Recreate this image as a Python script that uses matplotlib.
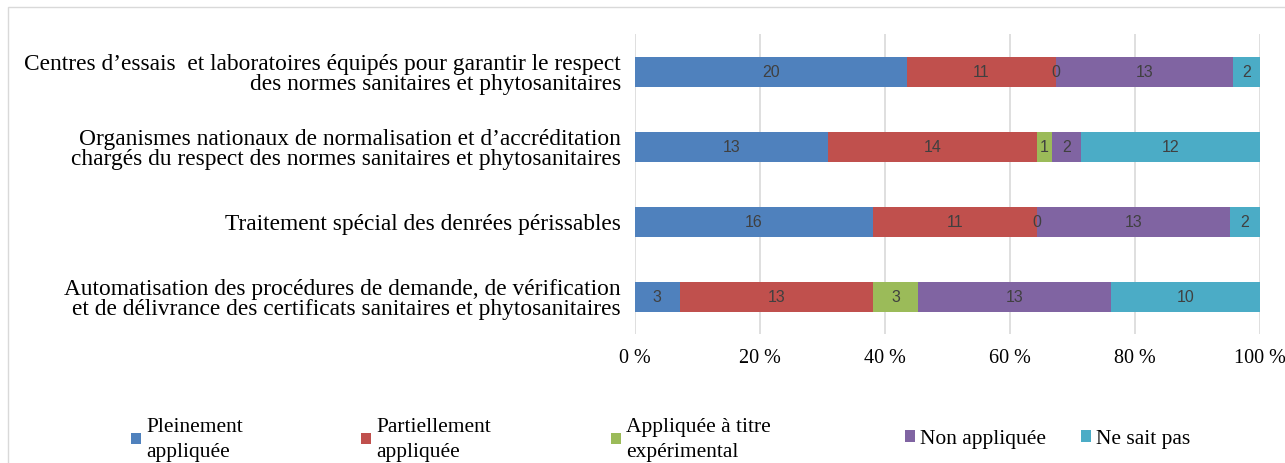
import matplotlib
matplotlib.use('Agg')

import numpy as np
import matplotlib.pyplot as plt
from matplotlib.patches import Rectangle

categories = [
    "Centres d\u2019essais  et laboratoires équipés pour garantir le respect\ndes normes sanitaires et phytosanitaires",
    "Organismes nationaux de normalisation et d\u2019accréditation\nchargés du respect des normes sanitaires et phytosanitaires",
    "Traitement spécial des denrées périssables",
    "Automatisation des procédures de demande, de vérification\net de délivrance des certificats sanitaires et phytosanitaires",
]
series_names = ["Pleinement\nappliquée", "Partiellement\nappliquée", "Appliquée à titre\nexpérimental",
                "Non appliquée", "Ne sait pas"]
pleinement = [20, 13, 16, 3]
partiellement = [11, 14, 11, 13]
experimental = [0, 1, 0, 3]
non_appliquee = [13, 2, 13, 13]
ne_sait_pas = [2, 12, 2, 10]
colors = ['#4F81BD', '#C0504D', '#9BBB59', '#8064A2', '#4BACC6']

serif = 'Liberation Serif'

values = np.array([pleinement, partiellement, experimental, non_appliquee, ne_sait_pas], dtype=float)
totals = values.sum(axis=0)
shares = values / totals * 100

fig = plt.figure(figsize=(12.85, 4.64), dpi=100)
ax = fig.add_axes([635 / 1285, 1 - 335 / 464, 625 / 1285, 300 / 464])

y = np.arange(len(categories))
left = np.zeros(len(categories))
bars = []
for i, name in enumerate(series_names):
    b = ax.barh(y, shares[i], left=left, height=0.4, color=colors[i], label=name, zorder=2)
    bars.append(b)
    for j in range(len(categories)):
        ax.text(left[j] + shares[i][j] / 2, y[j], '%d' % values[i][j],
                ha='center', va='center', fontsize=11.5, color='#404040',
                family='Liberation Sans', zorder=3)
    left = left + shares[i]

ax.set_xlim(0, 100)
ax.set_ylim(len(categories) - 0.5, -0.5)
ax.set_xticks(np.arange(0, 101, 20))
ax.set_xticklabels(['%d %%' % v for v in range(0, 101, 20)], family=serif, fontsize=14.5)
ax.set_yticks(y)
ax.set_yticklabels(categories, family=serif, fontsize=16.8, linespacing=0.96)
ax.tick_params(axis='both', length=0)
ax.tick_params(axis='y', pad=10)
ax.tick_params(axis='x', pad=10)
ax.grid(axis='x', color='#D9D9D9', linewidth=1.2, zorder=0)
for s in ax.spines.values():
    s.set_visible(False)

# legend entries placed along the bottom
xpos = [112, 342, 592, 886, 1062]
for i in range(5):
    fig.legend(handles=[bars[i]], labels=[series_names[i]],
               loc='center left', bbox_to_anchor=(xpos[i] / 1285, 1 - 440 / 464),
               frameon=False, handlelength=0.45, handleheight=0.45, handletextpad=0.25,
               prop={'family': serif, 'size': 15.5}, labelspacing=0)
for t in fig.legends:
    for txt in t.get_texts():
        txt.set_linespacing(1.4)

# chart border
fig.patches.append(Rectangle((8 / 1285, -0.01), 1.02, 1 - 8 / 464 + 0.01, transform=fig.transFigure,
                             fill=False, edgecolor='#D9D9D9', linewidth=1))

fig.savefig('out.png', dpi=100)
